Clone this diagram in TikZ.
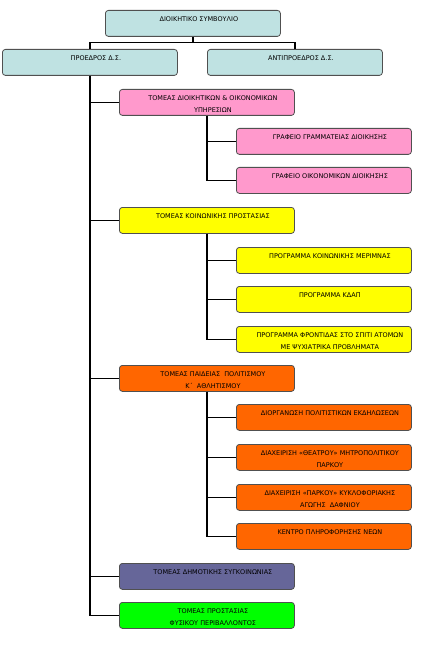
\documentclass[tikz,border=0pt]{standalone}
\usepackage{fontspec}
\setmainfont{DejaVu Sans}
\definecolor{cteal}{HTML}{BFE2E2}
\definecolor{cpink}{HTML}{FF99CC}
\definecolor{cyel}{HTML}{FFFF00}
\definecolor{corange}{HTML}{FF6600}
\definecolor{cpurple}{HTML}{666699}
\definecolor{cgreen}{HTML}{00FF00}
\definecolor{cborder}{HTML}{505050}
\newcommand\bxt[1]{\vbox to 26bp{\hsize=175bp\vskip 6.4bp\centering\leftskip=12bp plus 1fil\parindent=0pt\baselineskip=12bp\fontsize{6.5bp}{12bp}\selectfont #1\par\vfil}}
\tikzset{
  orgbox/.style={draw=cborder, line width=0.8bp, rounded corners=3bp, inner sep=0pt, minimum width=175bp, minimum height=26bp, anchor=north west},
  link/.style={draw=black, line width=1.4bp},
}
\begin{document}
\begin{tikzpicture}[x=1bp,y=-1bp]
\useasboundingbox (0,0) rectangle (421,648);
% level 0/1
\node[orgbox, fill=cteal] (ds) at (105,10) {\bxt{ΔΙΟΙΚΗΤΙΚΟ ΣΥΜΒΟΥΛΙΟ}};
\node[orgbox, fill=cteal] (pres) at (2,49) {\bxt{ΠΡΟΕΔΡΟΣ Δ.Σ.}};
\node[orgbox, fill=cteal] (vice) at (207,49) {\bxt{ΑΝΤΙΠΡΟΕΔΡΟΣ Δ.Σ.}};
% level 2
\node[orgbox, fill=cpink] (t1) at (119,89) {\bxt{ΤΟΜΕΑΣ ΔΙΟΙΚΗΤΙΚΩΝ \& ΟΙΚΟΝΟΜΙΚΩΝ\\ΥΠΗΡΕΣΙΩΝ}};
\node[orgbox, fill=cyel] (t2) at (119,207) {\bxt{ΤΟΜΕΑΣ ΚΟΙΝΩΝΙΚΗΣ ΠΡΟΣΤΑΣΙΑΣ}};
\node[orgbox, fill=corange] (t3) at (119,365) {\bxt{ΤΟΜΕΑΣ ΠΑΙΔΕΙΑΣ\ \ ΠΟΛΙΤΙΣΜΟΥ\\Κ΄\ \ ΑΘΛΗΤΙΣΜΟΥ}};
\node[orgbox, fill=cpurple] (t4) at (119,563) {\bxt{ΤΟΜΕΑΣ ΔΗΜΟΤΙΚΗΣ ΣΥΓΚΟΙΝΩΝΙΑΣ}};
\node[orgbox, fill=cgreen] (t5) at (119,602) {\bxt{ΤΟΜΕΑΣ ΠΡΟΣΤΑΣΙΑΣ\\ΦΥΣΙΚΟΥ ΠΕΡΙΒΑΛΛΟΝΤΟΣ}};
% level 3
\node[orgbox, fill=cpink] (a1) at (236,128) {\bxt{ΓΡΑΦΕΙΟ ΓΡΑΜΜΑΤΕΙΑΣ ΔΙΟΙΚΗΣΗΣ}};
\node[orgbox, fill=cpink] (a2) at (236,167) {\bxt{ΓΡΑΦΕΙΟ ΟΙΚΟΝΟΜΙΚΩΝ ΔΙΟΙΚΗΣΗΣ}};
\node[orgbox, fill=cyel] (b1) at (236,247) {\bxt{ΠΡΟΓΡΑΜΜΑ ΚΟΙΝΩΝΙΚΗΣ ΜΕΡΙΜΝΑΣ}};
\node[orgbox, fill=cyel] (b2) at (236,286) {\bxt{ΠΡΟΓΡΑΜΜΑ ΚΔΑΠ}};
\node[orgbox, fill=cyel] (b3) at (236,326) {\bxt{ΠΡΟΓΡΑΜΜΑ ΦΡΟΝΤΙΔΑΣ ΣΤΟ ΣΠΙΤΙ ΑΤΟΜΩΝ\\ΜΕ ΨΥΧΙΑΤΡΙΚΑ ΠΡΟΒΛΗΜΑΤΑ}};
\node[orgbox, fill=corange] (c1) at (236,404) {\bxt{ΔΙΟΡΓΑΝΩΣΗ ΠΟΛΙΤΙΣΤΙΚΩΝ ΕΚΔΗΛΩΣΕΩΝ}};
\node[orgbox, fill=corange] (c2) at (236,444) {\bxt{ΔΙΑΧΕΙΡΙΣΗ «ΘΕΑΤΡΟΥ» ΜΗΤΡΟΠΟΛΙΤΙΚΟΥ\\ΠΑΡΚΟΥ}};
\node[orgbox, fill=corange] (c3) at (236,484) {\bxt{ΔΙΑΧΕΙΡΙΣΗ «ΠΑΡΚΟΥ» ΚΥΚΛΟΦΟΡΙΑΚΗΣ\\ΑΓΩΓΗΣ\ \ ΔΑΦΝΙΟΥ}};
\node[orgbox, fill=corange] (c4) at (236,523) {\bxt{ΚΕΝΤΡΟ ΠΛΗΡΟΦΟΡΗΣΗΣ ΝΕΩΝ}};
% connectors
\coordinate (split) at ([yshift=-6bp]ds.south);
\draw[link] (ds.south) -- (split) -| (pres.north);
\draw[link] (split) -| (vice.north);
\foreach \t in {t1,t2,t3,t4,t5} \draw[link] (pres.south) |- (\t.west);
\foreach \s in {a1,a2} \draw[link] (t1.south) |- (\s.west);
\foreach \s in {b1,b2,b3} \draw[link] (t2.south) |- (\s.west);
\foreach \s in {c1,c2,c3,c4} \draw[link] (t3.south) |- (\s.west);
\end{tikzpicture}
\end{document}
